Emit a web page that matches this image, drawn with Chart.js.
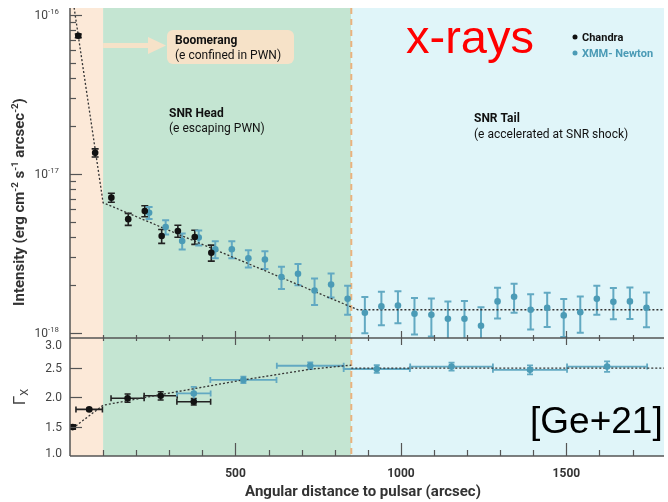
<!DOCTYPE html>
<html>
<head>
<meta charset="utf-8">
<script src="https://cdn.jsdelivr.net/npm/chart.js@4.4.0/dist/chart.umd.min.js"></script>
<style>
  body { margin: 0; background: #fff; }
</style>
</head>
<body>
<canvas id="chart" width="668" height="502"></canvas>
<script>

// surface brightness profile (erg cm-2 s-1 arcsec-2), Chandra
const chandraX = [25, 76, 125, 176, 226, 277, 326, 377, 427];
const chandraI = [7.4e-17, 1.36e-17, 7.1e-18, 5.2e-18, 5.85e-18, 4.07e-18, 4.38e-18, 4.02e-18, 3.2e-18];
const chandraIErr = [0.2e-17, 0.08e-17, 0.46e-18, 0.45e-18, 0.47e-18, 0.41e-18, 0.38e-18, 0.41e-18, 0.37e-18];

// surface brightness profile, XMM-Newton
const xmmX = [239, 289, 339, 389, 439, 489, 539, 589, 639, 689, 739, 789, 839, 891, 941, 991,
              1041, 1092, 1142, 1192, 1242, 1292, 1342, 1392, 1442, 1492, 1542, 1592, 1642, 1692, 1742];
const xmmI = [5.71e-18, 4.64e-18, 3.79e-18, 3.98e-18, 3.36e-18, 3.36e-18, 2.95e-18, 2.9e-18, 2.25e-18, 2.36e-18,
              1.85e-18, 2.02e-18, 1.64e-18, 1.34e-18, 1.47e-18, 1.49e-18, 1.32e-18, 1.30e-18, 1.23e-18, 1.23e-18,
              1.11e-18, 1.58e-18, 1.69e-18, 1.40e-18, 1.44e-18, 1.29e-18, 1.35e-18, 1.64e-18, 1.57e-18, 1.58e-18, 1.44e-18];
const xmmIErr = [0.50e-18, 0.47e-18, 0.44e-18, 0.43e-18, 0.41e-18, 0.41e-18, 0.37e-18, 0.37e-18, 0.36e-18, 0.36e-18,
                 0.35e-18, 0.35e-18, 0.34e-18, 0.345e-18, 0.35e-18, 0.34e-18, 0.34e-18, 0.35e-18, 0.35e-18, 0.36e-18,
                 0.34e-18, 0.345e-18, 0.35e-18, 0.35e-18, 0.35e-18, 0.345e-18, 0.345e-18, 0.34e-18, 0.35e-18, 0.355e-18, 0.355e-18];

// photon index
const chandraGX = [8, 58, 174, 274, 374];
const chandraGXErr = [8, 40, 50, 50, 51];
const chandraG = [1.49, 1.79, 1.98, 2.02, 1.92];
const chandraGErr = [0.03, 0.02, 0.07, 0.07, 0.055];

const xmmGX = [374, 524, 726, 927, 1153, 1390, 1623];
const xmmGXErr = [51, 100, 101, 100, 125, 112, 121];
const xmmG = [2.06, 2.29, 2.53, 2.475, 2.515, 2.46, 2.515];
const xmmGErr = [0.11, 0.056, 0.056, 0.065, 0.068, 0.076, 0.09];

// fitted models (dotted lines)
const fitIX = [0, 100, 870, 1795];
const fitI = [1.66e-16, 6.6e-18, 1.4e-18, 1.4e-18];
const fitGX = [8, 100, 274, 524, 726, 850];
const fitG = [1.47, 1.86, 2.04, 2.29, 2.47, 2.54];
const fitGTailX = [850, 1795];
const fitGTail = [2.49, 2.49];

// regions: Boomerang / SNR Head / SNR Tail
const regionEdges = [0, 100, 850, 1795];
const regionColors = ['#fce9d8', '#c4e5d2', '#e0f5f9'];

const xTickLabels = [500, 1000, 1500];
const gTicks = [1.0, 1.5, 2.0, 2.5, 3.0];
const decades = [-18, -17, -16];

const BLACK = '#111';
const BLUE = '#4b9bb6';
const BLUE_ERR = '#62a9c2';

function pts(xs, ys) {
  return xs.map((v, i) => ({x: v, y: ys[i]}));
}

function errBars(ctx, xs, ys, xe, ye, sx, sy, color, lw, cap) {
  ctx.save();
  ctx.beginPath();
  ctx.rect(sx.left, sy.top, sx.right - sx.left, sy.bottom - sy.top);
  ctx.clip();
  ctx.strokeStyle = color;
  ctx.lineWidth = lw;
  xs.forEach((v, i) => {
    const px = sx.getPixelForValue(v), py = sy.getPixelForValue(ys[i]);
    ctx.beginPath();
    if (ye) {
      const t = sy.getPixelForValue(ys[i] + ye[i]);
      const b = sy.getPixelForValue(Math.max(ys[i] - ye[i], 1e-30));
      ctx.moveTo(px, t); ctx.lineTo(px, b);
      ctx.moveTo(px - cap, t); ctx.lineTo(px + cap, t);
      ctx.moveTo(px - cap, b); ctx.lineTo(px + cap, b);
    }
    if (xe) {
      const l = sx.getPixelForValue(v - xe[i]), r = sx.getPixelForValue(v + xe[i]);
      ctx.moveTo(l, py); ctx.lineTo(r, py);
      ctx.moveTo(l, py - cap); ctx.lineTo(l, py + cap);
      ctx.moveTo(r, py - cap); ctx.lineTo(r, py + cap);
    }
    ctx.stroke();
  });
  ctx.restore();
}

// text with super/subscript pieces
function richText(ctx, parts, x, y, size, weight, align) {
  const fam = 'Roboto, "DejaVu Sans", sans-serif';
  let w = 0;
  parts.forEach(p => {
    const s = p.s ? size * 0.65 : size;
    ctx.font = `${weight} ${s}px ${fam}`;
    p.w = ctx.measureText(p.t).width;
    w += p.w;
  });
  let cx = align === 'center' ? x - w / 2 : align === 'right' ? x - w : x;
  parts.forEach(p => {
    const s = p.s ? size * 0.65 : size;
    ctx.font = `${weight} ${s}px ${fam}`;
    const dy = p.s === 'sup' ? -size * 0.4 : p.s === 'sub' ? size * 0.2 : 0;
    ctx.fillText(p.t, cx, y + dy);
    cx += p.w;
  });
}

function seg(ctx, x1, y1, x2, y2) {
  ctx.beginPath(); ctx.moveTo(x1, y1); ctx.lineTo(x2, y2); ctx.stroke();
}

const extras = {
  id: 'extras',
  beforeDatasetsDraw(chart) {
    const {ctx, chartArea: a, scales} = chart;
    const x = scales.x, yI = scales.yI, yG = scales.yG;
    ctx.save();
    regionColors.forEach((c, i) => {
      const l = x.getPixelForValue(regionEdges[i]);
      const r = x.getPixelForValue(regionEdges[i + 1]);
      ctx.fillStyle = c;
      ctx.fillRect(l, a.top, r - l, a.bottom - a.top);
    });
    // head / tail boundary
    const bx = x.getPixelForValue(regionEdges[2]);
    ctx.strokeStyle = '#e9b27e';
    ctx.lineWidth = 2;
    ctx.setLineDash([6, 5]);
    seg(ctx, bx, a.top, bx, a.bottom);
    ctx.setLineDash([]);
    ctx.restore();

    errBars(ctx, chandraX, chandraI, null, chandraIErr, x, yI, '#222', 1.6, 3.5);
    errBars(ctx, xmmX, xmmI, null, xmmIErr, x, yI, BLUE_ERR, 2, 3.5);
    errBars(ctx, chandraGX, chandraG, chandraGXErr, chandraGErr, x, yG, '#222', 1.6, 3);
    errBars(ctx, xmmGX, xmmG, xmmGXErr, xmmGErr, x, yG, BLUE_ERR, 1.8, 3);
  },
  afterDraw(chart) {
    const {ctx, chartArea: a, scales} = chart;
    const x = scales.x, yI = scales.yI, yG = scales.yG;
    ctx.save();

    // axis lines
    ctx.strokeStyle = '#555';
    ctx.lineWidth = 1.5;
    seg(ctx, a.left, a.top, a.left, a.bottom);
    seg(ctx, a.left, yI.bottom, a.right, yI.bottom);
    seg(ctx, a.left, yG.bottom, a.right, yG.bottom);

    // x ticks (inward)
    ctx.lineWidth = 1.2;
    for (let v = 100; v < x.max; v += 100) {
      const px = Math.round(x.getPixelForValue(v)) + 0.5;
      const major = v % 500 === 0;
      seg(ctx, px, yI.bottom, px, yI.bottom - (major ? 7 : 3));
      seg(ctx, px, yG.top, px, yG.top + (major ? 7 : 3));
      seg(ctx, px, yG.bottom, px, yG.bottom - (major ? 13 : 6));
    }

    // log ticks
    decades.forEach(d => {
      for (let k = 1; k <= 9; k++) {
        const v = k * Math.pow(10, d);
        if (v < yI.min || v > yI.max) continue;
        const py = Math.round(yI.getPixelForValue(v)) + 0.5;
        seg(ctx, a.left, py, a.left + (k === 1 ? 12 : 6), py);
      }
    });
    [1.5, 2.0, 2.5].forEach(v => {
      const py = Math.round(yG.getPixelForValue(v)) + 0.5;
      seg(ctx, a.left, py, a.left + 12, py);
    });

    // tick labels
    ctx.fillStyle = '#444';
    ctx.textBaseline = 'alphabetic';
    decades.forEach(d => {
      const py = yI.getPixelForValue(Math.pow(10, d));
      richText(ctx, [{t: '10'}, {t: String(d), s: 'sup'}], 59, py + 4, 12, 'normal', 'right');
    });
    ctx.font = '12px Roboto, sans-serif';
    ctx.textAlign = 'right';
    gTicks.forEach(v => {
      let py = yG.getPixelForValue(v);
      py = Math.min(Math.max(py, yG.top + 7), yG.bottom - 3);
      ctx.fillText(v.toFixed(1), 62, py + 4);
    });
    ctx.textAlign = 'center';
    ctx.fillStyle = '#333';
    ctx.font = 'bold 12px Roboto, sans-serif';
    xTickLabels.forEach(v => {
      ctx.fillText(String(v), x.getPixelForValue(v), 477);
    });
    ctx.textAlign = 'left';

    // axis titles
    ctx.fillStyle = '#333';
    ctx.save();
    ctx.translate(24, 202);
    ctx.rotate(-Math.PI / 2);
    richText(ctx, [{t: 'Intensity (erg cm'}, {t: '-2', s: 'sup'}, {t: ' s'}, {t: '-1', s: 'sup'},
                   {t: ' arcsec'}, {t: '-2', s: 'sup'}, {t: ')'}], 0, 0, 15, 'bold', 'center');
    ctx.restore();
    ctx.fillStyle = '#444';
    ctx.save();
    ctx.translate(25, 397);
    ctx.rotate(-Math.PI / 2);
    richText(ctx, [{t: 'Γ'}, {t: 'X', s: 'sub'}], 0, 0, 17, 'normal', 'center');
    ctx.restore();
    ctx.fillStyle = '#333';
    ctx.font = 'bold 15px Roboto, sans-serif';
    ctx.textAlign = 'center';
    ctx.fillText('Angular distance to pulsar (arcsec)', 363, 496);
    ctx.textAlign = 'left';

    // Boomerang callout
    ctx.fillStyle = '#f6e2c8';
    ctx.beginPath();
    ctx.roundRect(167, 30, 127, 34, 6);
    ctx.fill();
    const ax0 = x.getPixelForValue(regionEdges[1]);
    ctx.fillRect(ax0, 43, 150 - ax0, 5);
    ctx.beginPath();
    ctx.moveTo(148, 37); ctx.lineTo(166, 45.5); ctx.lineTo(148, 54); ctx.closePath();
    ctx.fill();

    ctx.fillStyle = '#111';
    ctx.font = 'bold 12px Roboto, sans-serif';
    ctx.fillText('Boomerang', 175, 44);
    ctx.fillText('SNR Head', 169, 117);
    ctx.fillText('SNR Tail', 474, 122);
    ctx.font = '12px Roboto, sans-serif';
    ctx.fillText('(e confined in PWN)', 175, 59);
    ctx.fillText('(e escaping PWN)', 169, 132);
    ctx.fillText('(e accelerated at SNR shock)', 474, 138);

    // legend
    ctx.font = 'bold 11px Roboto, sans-serif';
    ctx.fillStyle = BLACK;
    ctx.beginPath(); ctx.arc(575, 37, 2.5, 0, Math.PI * 2); ctx.fill();
    ctx.fillText('Chandra', 582, 41);
    ctx.fillStyle = BLUE;
    ctx.beginPath(); ctx.arc(575, 53, 2.5, 0, Math.PI * 2); ctx.fill();
    ctx.fillText('XMM- Newton', 582, 57);

    // labels
    ctx.fillStyle = '#ff0000';
    ctx.font = '47px "Liberation Sans", Arial, sans-serif';
    ctx.fillText('x-rays', 406, 53);
    ctx.fillStyle = '#000';
    ctx.font = '37px "Liberation Sans", Arial, sans-serif';
    ctx.fillText('[Ge+21]', 530, 433);

    ctx.restore();
  }
};

const fitStyle = {
  showLine: true, pointRadius: 0, borderColor: '#333', borderWidth: 1.3, borderDash: [2, 2], fill: false
};

new Chart(document.getElementById('chart'), {
  type: 'scatter',
  data: {
    datasets: [
      Object.assign({data: pts(fitIX, fitI), yAxisID: 'yI', order: 3}, fitStyle),
      Object.assign({data: pts(fitGX, fitG), yAxisID: 'yG', order: 3}, fitStyle),
      Object.assign({data: pts(fitGTailX, fitGTail), yAxisID: 'yG', order: 3}, fitStyle),
      {label: 'Chandra', data: pts(chandraX, chandraI), yAxisID: 'yI', backgroundColor: BLACK,
       borderWidth: 0, pointRadius: 3.3, order: 1},
      {label: 'XMM- Newton', data: pts(xmmX, xmmI), yAxisID: 'yI', backgroundColor: BLUE,
       borderWidth: 0, pointRadius: 3.3, order: 2},
      {data: pts(chandraGX, chandraG), yAxisID: 'yG', backgroundColor: BLACK,
       borderWidth: 0, pointRadius: 3.3, order: 1},
      {data: pts(xmmGX, xmmG), yAxisID: 'yG', backgroundColor: BLUE,
       borderWidth: 0, pointRadius: 3.3, order: 2}
    ]
  },
  options: {
    responsive: false,
    animation: false,
    layout: {padding: {top: 8, left: 0, right: 0, bottom: 0}},
    plugins: {legend: {display: false}, tooltip: {enabled: false}},
    scales: {
      x: {
        type: 'linear', min: 0, max: 1795, position: 'bottom',
        grid: {display: false, drawTicks: false}, border: {display: false},
        ticks: {display: false},
        afterFit: s => { s.height = 46; }
      },
      yG: {
        type: 'linear', position: 'left', stack: 'panels', stackWeight: 118, min: 1, max: 3,
        grid: {display: false, drawTicks: false}, border: {display: false},
        ticks: {display: false},
        afterFit: s => { s.width = 70; }
      },
      yI: {
        type: 'logarithmic', position: 'left', stack: 'panels', stackWeight: 330,
        min: 9.3e-19, max: 1.107e-16,
        grid: {display: false, drawTicks: false}, border: {display: false},
        ticks: {display: false},
        afterFit: s => { s.width = 70; }
      }
    }
  },
  plugins: [extras]
});
</script>
</body>
</html>
